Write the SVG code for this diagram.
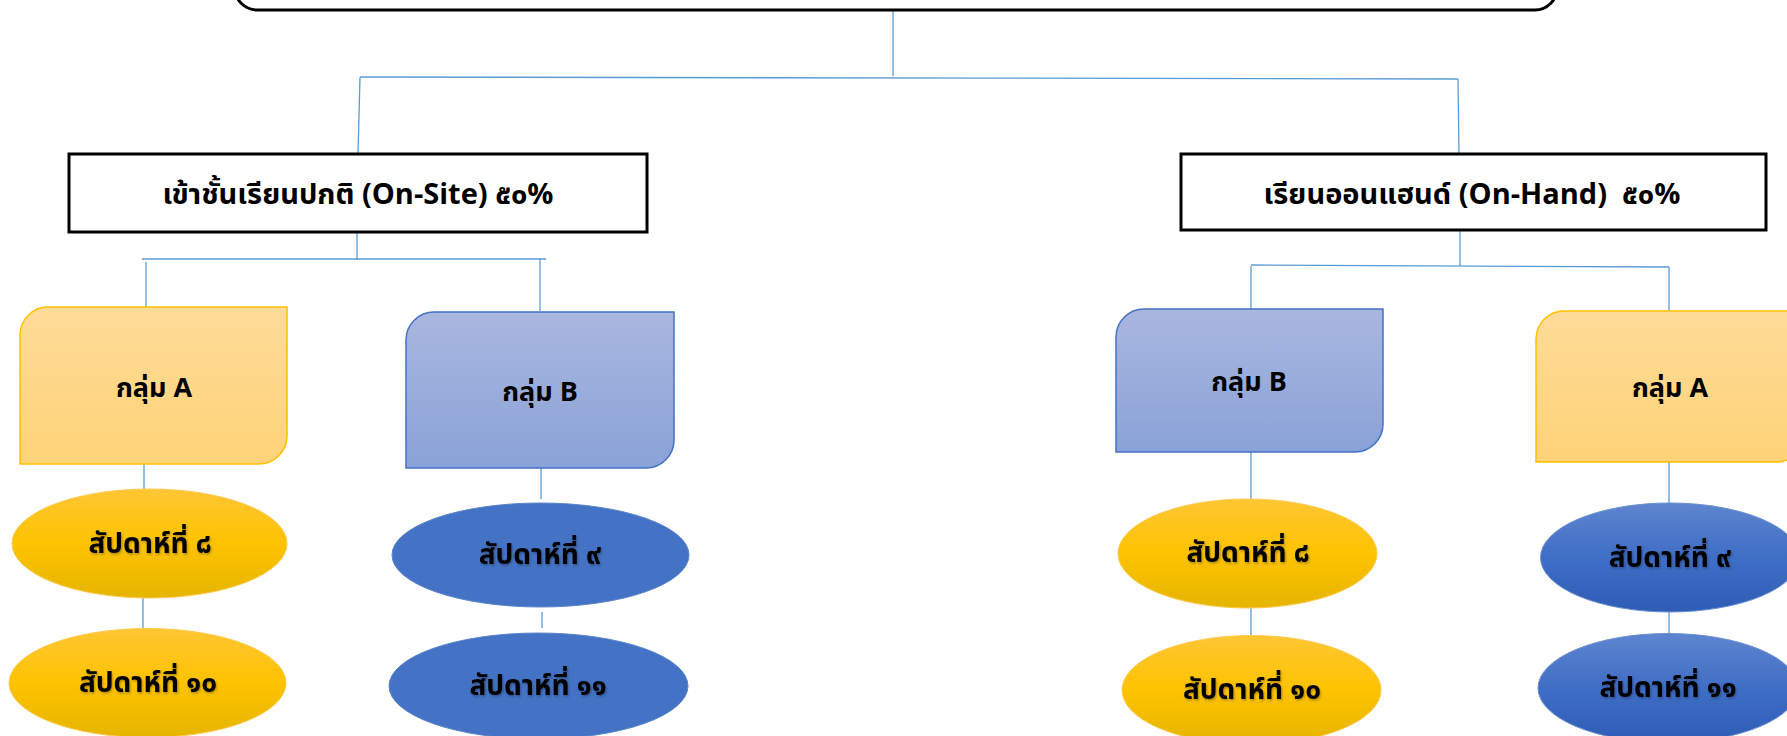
<svg xmlns="http://www.w3.org/2000/svg" width="1787" height="736" viewBox="0 0 1787 736">
<defs>
<style>
.conn{stroke:#5B9BD5;stroke-width:1.3;fill:none}
.box{fill:#fff;stroke:#000;stroke-width:3}
.t{font-family:"Leelawadee UI","Noto Sans Thai","Noto Sans","DejaVu Sans",sans-serif;fill:#000;text-anchor:middle;font-weight:bold;white-space:pre}
.h{font-size:29px}
.g{font-size:27px}
.e{font-size:28px;filter:url(#sh)}
.ga{fill:url(#gA);stroke:#FFC000;stroke-width:1.5}
.gb{fill:url(#gB);stroke:#4472C4;stroke-width:1.5}
.eg{fill:url(#gGold);stroke:#FFC94D;stroke-width:1}
.ebs{fill:#4472C4;stroke:#5A84CC;stroke-width:1}
.ebg{fill:url(#gBlue);stroke:#6A8FD2;stroke-width:1}
</style>
<linearGradient id="gA" x1="0" y1="0" x2="0" y2="1"><stop offset="0" stop-color="#FEDB98"/><stop offset="1" stop-color="#FED378"/></linearGradient>
<linearGradient id="gB" x1="0" y1="0" x2="0" y2="1"><stop offset="0" stop-color="#A9B7DF"/><stop offset="1" stop-color="#8AA2D8"/></linearGradient>
<linearGradient id="gGold" x1="0" y1="0" x2="0" y2="1"><stop offset="0" stop-color="#FEC634"/><stop offset="0.5" stop-color="#FEC300"/><stop offset="1" stop-color="#E5B500"/></linearGradient>
<linearGradient id="gBlue" x1="0" y1="0" x2="0" y2="1"><stop offset="0" stop-color="#5E85CE"/><stop offset="0.5" stop-color="#3F6EC6"/><stop offset="1" stop-color="#2F5DB5"/></linearGradient>
<filter id="sh" x="-10%" y="-30%" width="120%" height="160%"><feDropShadow dx="1" dy="1.5" stdDeviation="0.8" flood-color="#000" flood-opacity="0.3"/></filter>
</defs>
<rect width="1787" height="736" fill="#fff"/>

<g id="connectors">
<path class="conn" d="M893 11 V76"/>
<path class="conn" d="M360 77 L1458 79"/>
<path class="conn" d="M360 77 L358 154"/>
<path class="conn" d="M1458 79 L1459 154"/>
<path class="conn" d="M357 232 V260"/>
<path class="conn" d="M142 259 H546"/>
<path class="conn" d="M146 262 V307"/>
<path class="conn" d="M540 258 V311"/>
<path class="conn" d="M1460 230 V266"/>
<path class="conn" d="M1251 265 L1669 267"/>
<path class="conn" d="M1251 266 V309"/>
<path class="conn" d="M1669 267 V311"/>
<path class="conn" d="M144 464 V489"/>
<path class="conn" d="M143 598 V629"/>
<path class="conn" d="M541 468 V499"/>
<path class="conn" d="M542 612 V628"/>
<path class="conn" d="M1251 452 V499"/>
<path class="conn" d="M1251 608 V636"/>
<path class="conn" d="M1669 462 V503"/>
<path class="conn" d="M1669 612 V634"/>
</g>

<g id="top">
<rect class="box" x="235" y="-60" width="1322" height="70" rx="22" ry="22"/>
</g>

<g id="onsite">
<rect class="box" x="69" y="154" width="578" height="78"/>
<text class="t h" x="358" y="204">เข้าชั้นเรียนปกติ (On-Site) ๕๐%</text>
</g>

<g id="onhand">
<rect class="box" x="1181" y="154" width="585" height="76"/>
<text class="t h" x="1472" y="204" xml:space="preserve">เรียนออนแฮนด์ (On-Hand)  ๕๐%</text>
</g>

<g id="groupA-left">
<path class="ga" d="M48 307 H287 V436 A28 28 0 0 1 259 464 H20 V335 A28 28 0 0 1 48 307 Z"/>
<text class="t g" x="154" y="397">กลุ่ม A</text>
</g>

<g id="groupB-left">
<path class="gb" d="M434 312 H674 V440 A28 28 0 0 1 646 468 H406 V340 A28 28 0 0 1 434 312 Z"/>
<text class="t g" x="540" y="401">กลุ่ม B</text>
</g>

<g id="groupB-right">
<path class="gb" d="M1144 309 H1383 V424 A28 28 0 0 1 1355 452 H1116 V337 A28 28 0 0 1 1144 309 Z"/>
<text class="t g" x="1249" y="391">กลุ่ม B</text>
</g>

<g id="groupA-right">
<path class="ga" d="M1564 311 H1804 V434 A28 28 0 0 1 1776 462 H1536 V339 A28 28 0 0 1 1564 311 Z"/>
<text class="t g" x="1670" y="397">กลุ่ม A</text>
</g>

<g id="w8-left">
<ellipse class="eg" cx="149.500" cy="543.500" rx="137.500" ry="54.500"/>
<text class="t e" x="150" y="553">สัปดาห์ที่ ๘</text>
</g>
<g id="w10-left">
<ellipse class="eg" cx="147.500" cy="683" rx="138.500" ry="54.500"/>
<text class="t e" x="148" y="692">สัปดาห์ที่ ๑๐</text>
</g>
<g id="w9-left">
<ellipse class="ebs" cx="540.500" cy="555" rx="148.500" ry="52"/>
<text class="t e" x="540" y="564">สัปดาห์ที่ ๙</text>
</g>
<g id="w11-left">
<ellipse class="ebs" cx="538.500" cy="686" rx="149.500" ry="53"/>
<text class="t e" x="538" y="695">สัปดาห์ที่ ๑๑</text>
</g>

<g id="w8-right">
<ellipse class="eg" cx="1247.500" cy="553.500" rx="129.500" ry="54.500"/>
<text class="t e" x="1248" y="562">สัปดาห์ที่ ๘</text>
</g>
<g id="w10-right">
<ellipse class="eg" cx="1251.500" cy="690" rx="129.500" ry="54.500"/>
<text class="t e" x="1252" y="699">สัปดาห์ที่ ๑๐</text>
</g>
<g id="w9-right">
<ellipse class="ebg" cx="1670" cy="557.500" rx="129.500" ry="54.500"/>
<text class="t e" x="1670" y="567">สัปดาห์ที่ ๙</text>
</g>
<g id="w11-right">
<ellipse class="ebg" cx="1668" cy="688" rx="130" ry="54.500"/>
<text class="t e" x="1668" y="697">สัปดาห์ที่ ๑๑</text>
</g>
</svg>
